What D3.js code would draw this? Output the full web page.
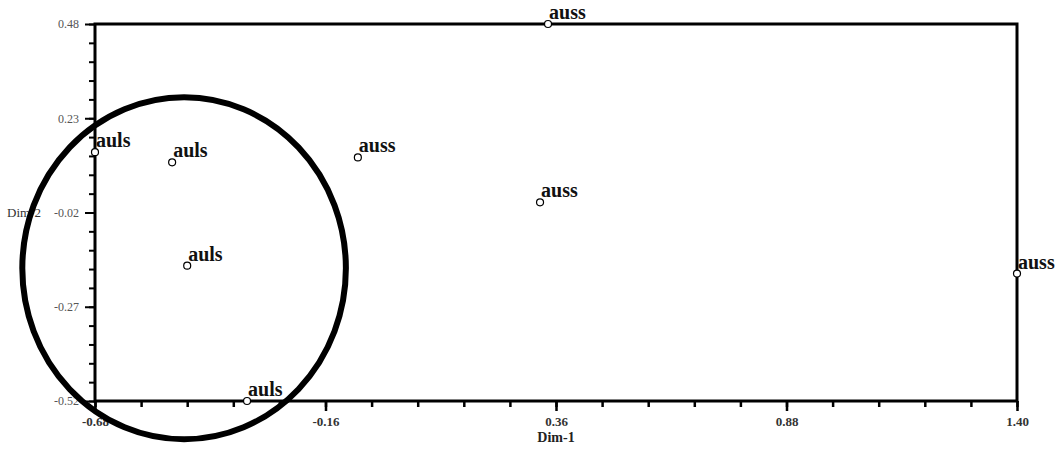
<!DOCTYPE html>
<html>
<head>
<meta charset="utf-8">
<script src="https://cdn.jsdelivr.net/npm/d3@7"></script>
<style>
  body { margin: 0; background: #fff; }
  svg { display: block; }
  .lbl { font-family: "Liberation Serif", "Times New Roman", serif; font-weight: bold; font-size: 20px; fill: #111; }
  .xt text { font-family: "Liberation Serif", serif; font-weight: bold; font-size: 13px; fill: #333; }
  .yt text { font-family: "Liberation Serif", serif; font-size: 12px; fill: #555; }
</style>
</head>
<body>
<div id="chart"></div>
<script>
// points
var labels = ["auls", "auls", "auls", "auls", "auss", "auss", "auss", "auss"];
var dim1 = [-0.68, -0.506, -0.472, -0.337, -0.087, 0.342, 0.324, 1.40];
var dim2 = [0.14, 0.113, -0.161, -0.52, 0.126, 0.48, 0.007, -0.182];

var xTicks = [-0.68, -0.16, 0.36, 0.88, 1.40];
var yTicks = [0.48, 0.23, -0.02, -0.27, -0.52];

// hand-drawn circle around the auls group (center, radii in data units)
var ringCenter = [-0.479, -0.168];
var ringRadius = [0.365, 0.4535];

var width = 1061, height = 454;
var mLeft = 95, mRight = 1017, mTop = 24, mBottom = 401;

var x = d3.scaleLinear().domain([-0.68, 1.40]).range([mLeft, mRight]);
var y = d3.scaleLinear().domain([-0.52, 0.48]).range([mBottom, mTop]);
var fmt = function (d) { return d3.format(".2f")(d).replace("\u2212", "-"); };

var svg = d3.select("#chart").append("svg").attr("width", width).attr("height", height);

// minor ticks: 5 per major step
var xMinor = d3.range(0, 21).map(function (i) { return -0.68 + i * 0.104; });
var yMinor = d3.range(0, 21).map(function (i) { return -0.52 + i * 0.05; });

svg.append("g")
  .attr("transform", "translate(0," + mBottom + ")")
  .call(d3.axisBottom(x).tickValues(xMinor).tickSize(6).tickFormat(""))
  .call(function (g) {
    g.select(".domain").remove();
    g.selectAll("line").attr("stroke", "#000").attr("stroke-width", 2.5);
  });

svg.append("g")
  .attr("transform", "translate(" + mLeft + ",0)")
  .call(d3.axisLeft(y).tickValues(yMinor).tickSize(6).tickFormat(""))
  .call(function (g) {
    g.select(".domain").remove();
    g.selectAll("line").attr("stroke", "#000").attr("stroke-width", 2);
  });

svg.append("g")
  .attr("class", "xt")
  .attr("transform", "translate(0," + mBottom + ")")
  .call(d3.axisBottom(x).tickValues(xTicks).tickSize(10).tickPadding(6).tickFormat(fmt))
  .call(function (g) {
    g.select(".domain").remove();
    g.selectAll("line").attr("stroke", "#000").attr("stroke-width", 2.5);
    g.selectAll("text").attr("font-family", null).attr("font-size", null);
  });

svg.append("g")
  .attr("class", "yt")
  .attr("transform", "translate(" + mLeft + ",0)")
  .call(d3.axisLeft(y).tickValues(yTicks).tickSize(10).tickPadding(6).tickFormat(fmt))
  .call(function (g) {
    g.select(".domain").remove();
    g.selectAll("line").attr("stroke", "#000").attr("stroke-width", 2);
    g.selectAll("text").attr("font-family", null).attr("font-size", null);
  });

// frame
svg.append("rect")
  .attr("x", mLeft).attr("y", mTop)
  .attr("width", mRight - mLeft).attr("height", mBottom - mTop)
  .attr("fill", "none").attr("stroke", "#000").attr("stroke-width", 3);

// axis titles
svg.append("text")
  .attr("x", (mLeft + mRight) / 2).attr("y", 442)
  .attr("text-anchor", "middle")
  .style("font-family", "Liberation Serif, serif").style("font-weight", "bold").style("font-size", "14px")
  .attr("fill", "#222")
  .text("Dim-1");

svg.append("text")
  .attr("x", 7).attr("y", y(-0.02) + 4)
  .style("font-family", "Liberation Serif, serif").style("font-size", "13px")
  .attr("fill", "#333")
  .text("Dim-2");

var pts = labels.map(function (d, i) { return { label: d, dx: dim1[i], dy: dim2[i] }; });

svg.selectAll(".pt")
  .data(pts)
  .enter()
  .append("circle")
  .attr("class", "pt")
  .attr("cx", function (d) { return x(d.dx); })
  .attr("cy", function (d) { return y(d.dy); })
  .attr("r", 3.5)
  .attr("fill", "#fff")
  .attr("stroke", "#000")
  .attr("stroke-width", 1.2);

svg.selectAll(".lbl")
  .data(pts)
  .enter()
  .append("text")
  .attr("class", "lbl")
  .attr("x", function (d) { return x(d.dx) + 1; })
  .attr("y", function (d) { return y(d.dy) - 5; })
  .text(function (d) { return d.label; });

// the ellipse annotation
svg.append("ellipse")
  .attr("cx", x(ringCenter[0]))
  .attr("cy", y(ringCenter[1]))
  .attr("rx", x(ringCenter[0] + ringRadius[0]) - x(ringCenter[0]))
  .attr("ry", y(ringCenter[1]) - y(ringCenter[1] + ringRadius[1]))
  .attr("fill", "none")
  .attr("stroke", "#000")
  .attr("stroke-width", 6);
</script>
</body>
</html>
